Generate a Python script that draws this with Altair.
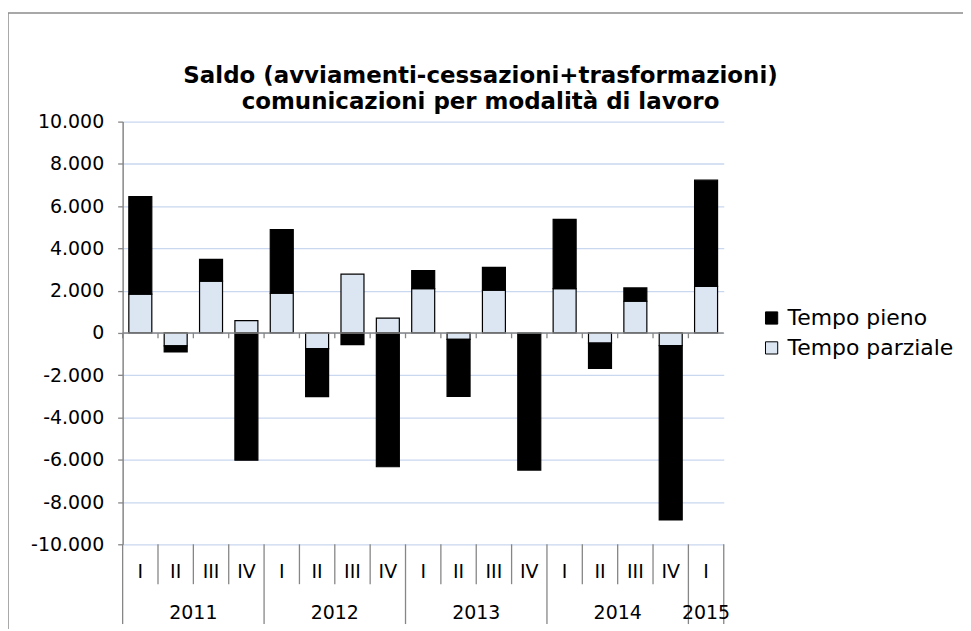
import altair as alt
import pandas as pd

# ---------------- data ----------------
years = ["2011"] * 4 + ["2012"] * 4 + ["2013"] * 4 + ["2014"] * 4 + ["2015"]
quarters = ["I", "II", "III", "IV"] * 4 + ["I"]
tempo_parziale = [1840, -610, 2450, 580, 1880, -740, 2780, 700, 2100, -300, 2020, -30,
                  2100, -480, 1500, -600, 2200]
tempo_pieno = [4610, -290, 1030, -6020, 3010, -2270, -550, -6330, 850, -2700, 1080, -6460,
               3270, -1200, 630, -8250, 5030]
series_names = ["Tempo pieno", "Tempo parziale"]
series_colors = ["#000000", "#dce6f2"]
y_ticks = [-10000, -8000, -6000, -4000, -2000, 0, 2000, 4000, 6000, 8000, 10000]
title_lines = ["Saldo (avviamenti-cessazioni+trasformazioni)",
               "comunicazioni per modalità di lavoro"]

cats = [f"{y}-{q}" for y, q in zip(years, quarters)]

rows = []
for c, y, q, vp, vf in zip(cats, years, quarters, tempo_parziale, tempo_pieno):
    rows.append({"cat": c, "year": y, "q": q, "series": "Tempo parziale", "value": vp, "ord": 0})
    rows.append({"cat": c, "year": y, "q": q, "series": "Tempo pieno", "value": vf, "ord": 1})
df = pd.DataFrame(rows)

cat_df = pd.DataFrame({"cat": cats, "year": years, "q": quarters})
short_sep = cat_df[cat_df["q"] != "I"]
long_sep = cat_df[cat_df["q"] == "I"]
last_cat = cat_df.tail(1)
full_year_anchor = cat_df[(cat_df["q"] == "II")]
single_year = cat_df[cat_df["year"].map(years.count) == 1]

FONT = "DejaVu Sans"
GRAY = "#868686"
H = 424

xs = alt.Scale(paddingInner=0, paddingOuter=0)
ys = alt.Scale(domain=[-10000, 10000], nice=False, zero=False)


def X(band=0.5):
    return alt.X("cat:N", sort=cats, scale=xs, axis=None, bandPosition=band)


ylab = "(datum.value < 0 ? '-' : '') + replace(format(abs(datum.value), ','), ',', '.')"

frame = alt.Chart(alt.Data(values=[{}])).mark_rect(
    fillOpacity=0, stroke="#8c8c8c", strokeWidth=1.5
).encode(x=alt.value(-115), x2=alt.value(1000), y=alt.value(-109), y2=alt.value(900))

zero_line = alt.Chart(alt.Data(values=[{}])).mark_rule(color=GRAY, strokeWidth=1.5).encode(
    y=alt.datum(0, scale=ys)
)

bars = alt.Chart(df).mark_bar(
    width=alt.RelativeBandSize(0.65), stroke="black", strokeWidth=1.2
).encode(
    x=X(),
    y=alt.Y(
        "value:Q",
        stack="zero",
        scale=ys,
        axis=alt.Axis(
            values=y_ticks, labelExpr=ylab, title=None, labelFontSize=19, labelFont=FONT,
            labelColor="black", tickColor=GRAY, tickSize=5, tickWidth=1.3,
            domainColor=GRAY, domainWidth=1.5, gridColor="#c9d7ef", gridWidth=1.3,
            labelPadding=14,
        ),
    ),
    color=alt.Color(
        "series:N",
        scale=alt.Scale(domain=series_names, range=series_colors),
        legend=alt.Legend(
            title=None, orient="none", legendX=640, legendY=186, symbolType="square",
            symbolSize=150, symbolStrokeColor="black", symbolStrokeWidth=1,
            labelFontSize=22, labelFont=FONT, labelColor="black", labelOffset=5,
            labelLimit=400, rowPadding=8, padding=0,
        ),
    ),
    order=alt.Order("ord:Q"),
)

zero_ticks = alt.Chart(cat_df).mark_rule(color=GRAY, strokeWidth=1.3).encode(
    x=X(0), y=alt.datum(0), y2=alt.datum(-250)
)

short_rules = alt.Chart(short_sep).mark_rule(color=GRAY, strokeWidth=1.3).encode(
    x=X(0), y=alt.value(H), y2=alt.value(H + 40)
)
long_rules = alt.Chart(long_sep).mark_rule(color=GRAY, strokeWidth=1.3).encode(
    x=X(0), y=alt.value(H), y2=alt.value(H + 80)
)
end_rule = alt.Chart(last_cat).mark_rule(color=GRAY, strokeWidth=1.3).encode(
    x=X(1), y=alt.value(H), y2=alt.value(H + 80)
)

q_labels = alt.Chart(cat_df).mark_text(fontSize=19, font=FONT, color="black", baseline="middle").encode(
    x=X(), y=alt.value(H + 28), text="q:N"
)
y_labels_full = alt.Chart(full_year_anchor).mark_text(
    fontSize=19, font=FONT, color="black", baseline="middle"
).encode(x=X(1), y=alt.value(H + 69), text="year:N")
y_labels_single = alt.Chart(single_year).mark_text(
    fontSize=19, font=FONT, color="black", baseline="middle"
).encode(x=X(0.5), y=alt.value(H + 69), text="year:N")

title_layers = []
for line_text, line_y in zip(title_lines, [-46, -20]):
    title_layers.append(
        alt.Chart(pd.DataFrame({"t": [line_text]})).mark_text(
            fontSize=23, font=FONT, fontWeight="bold", color="black", baseline="middle",
            align="center",
        ).encode(x=alt.value(359), y=alt.value(line_y), text="t:N")
    )

chart = alt.layer(
    frame, bars, zero_line, zero_ticks, short_rules, long_rules, end_rule,
    q_labels, y_labels_full, y_labels_single, *title_layers,
).properties(
    width=603, height=H,
    autosize=alt.AutoSizeParams(type="none"),
    padding={"left": 115, "top": 113, "right": 240, "bottom": 84},
    background="white",
).configure_view(stroke=None)

chart.save("out.html", embed_options={"renderer": "svg", "actions": False})
